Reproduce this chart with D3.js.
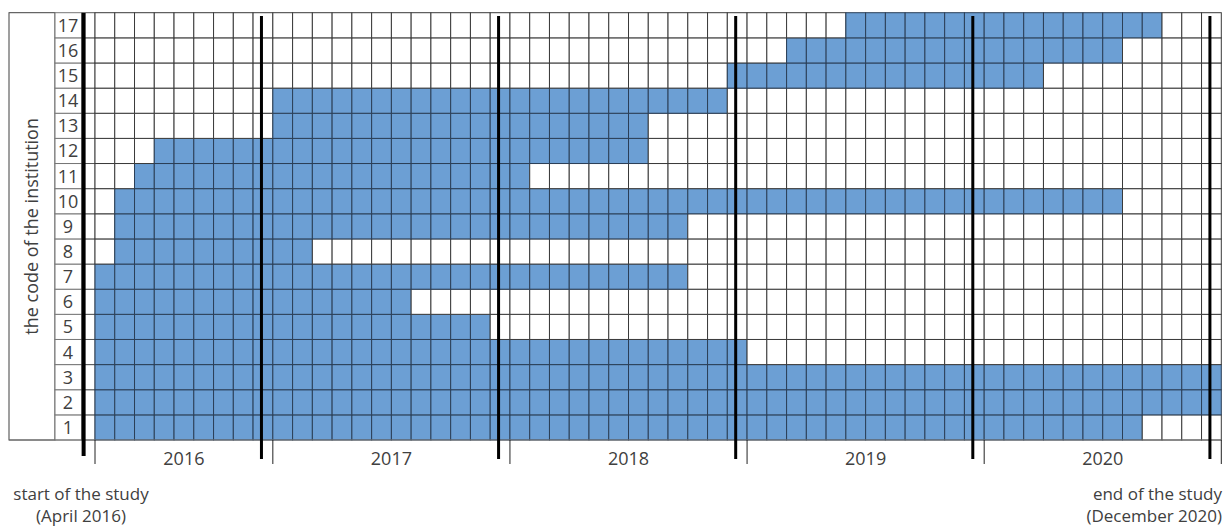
<!DOCTYPE html>
<html>
<head>
<meta charset="utf-8">
<script src="https://cdn.jsdelivr.net/npm/d3@7"></script>
<style>
  body { margin: 0; background: #fff; }
  text { font-family: "Open Sans", sans-serif; fill: #404040; }
</style>
</head>
<body>
<div id="chart"></div>
<script>
const w = 1224;
const h = 528;

// institutions and the months they took part (first and last month, inclusive)
const institutions = [1, 2, 3, 4, 5, 6, 7, 8, 9, 10, 11, 12, 13, 14, 15, 16, 17];
const startMonth = ["2016-04", "2016-04", "2016-04", "2016-04", "2016-04", "2016-04", "2016-04", "2016-05", "2016-05",
                    "2016-05", "2016-06", "2016-07", "2017-01", "2017-01", "2018-12", "2019-03", "2019-06"];
const endMonth   = ["2020-08", "2020-12", "2020-12", "2018-12", "2017-11", "2017-07", "2018-09", "2017-02", "2018-09",
                    "2020-07", "2018-01", "2018-07", "2018-07", "2018-11", "2020-03", "2020-07", "2020-09"];
const years = ["2016", "2017", "2018", "2019", "2020"];
// thick marker lines: start of study, year changes, end of study
const markers = ["2016-04", "2017-01", "2018-01", "2019-01", "2020-01", "2021-01"];

const fmt = d3.timeFormat("%Y-%m");
const months = d3.timeMonth.range(new Date(2016, 3, 1), new Date(2021, 0, 1)).map(fmt);

const gLeft = 95, gRight = 1221.3, gTop = 12.7, gBottom = 440;

const svg = d3.select("#chart")
    .append("svg")
        .attr("width", w)
        .attr("height", h);

const x = d3.scaleBand().domain(months).range([gLeft, gRight]);
const y = d3.scaleBand().domain(institutions).range([gBottom, gTop]);
const bw = x.bandwidth();
const xEdge = m => m === "2021-01" ? gRight : x(m);

// left label box
svg.append("rect")
    .attr("x", 9).attr("y", gTop)
    .attr("width", 46).attr("height", gBottom - gTop)
    .attr("fill", "none").attr("stroke", "#404040");

svg.append("text")
    .attr("transform", "translate(38," + (gTop + gBottom) / 2 + ") rotate(-90)")
    .attr("text-anchor", "middle")
    .style("font-size", "18px")
    .text("the code of the institution");

const rows = svg.append("g");
rows.selectAll("rect")
    .data(institutions)
    .enter()
    .append("rect")
        .attr("x", 55)
        .attr("y", d => y(d))
        .attr("width", 27)
        .attr("height", y.bandwidth())
        .attr("fill", "#fff")
        .attr("stroke", "#777");

rows.selectAll("text")
    .data(institutions)
    .enter()
    .append("text")
        .attr("x", 68)
        .attr("y", d => y(d) + y.bandwidth() / 2 + 6.5)
        .attr("text-anchor", "middle")
        .style("font-size", "18px")
        .text(d => d);

// filler between label column and first month
svg.append("g").selectAll("rect")
    .data(institutions)
    .enter()
    .append("rect")
        .attr("x", 82).attr("y", d => y(d))
        .attr("width", gLeft - 82).attr("height", y.bandwidth())
        .attr("fill", "#fff").attr("stroke", "#555");

// grid of cells
const cells = [];
institutions.forEach((inst, i) => {
    months.forEach(m => {
        cells.push({inst: inst, month: m, on: m >= startMonth[i] && m <= endMonth[i]});
    });
});

svg.append("g").selectAll("rect")
    .data(cells)
    .enter()
    .append("rect")
        .attr("x", d => x(d.month))
        .attr("y", d => y(d.inst))
        .attr("width", bw)
        .attr("height", y.bandwidth())
        .attr("fill", d => d.on ? "#6c9fd4" : "#fff")
        .attr("stroke", d => d.on ? "#2b3f57" : "#3a3a3a")
        .attr("stroke-width", 1);

// bottom rule
svg.append("line")
    .attr("x1", 9).attr("x2", gRight)
    .attr("y1", gBottom).attr("y2", gBottom)
    .attr("stroke", "#777");

// year ticks and labels
const yearEdges = years.map(yr => yr === "2016" ? "2016-04" : yr + "-01").concat(["2021-01"]);
svg.append("g").selectAll("line")
    .data(yearEdges)
    .enter()
    .append("line")
        .attr("x1", d => xEdge(d)).attr("x2", d => xEdge(d))
        .attr("y1", gBottom).attr("y2", 464)
        .attr("stroke", "#222").attr("stroke-width", 1);

svg.append("g").selectAll("text")
    .data(years)
    .enter()
    .append("text")
        .attr("x", (d, i) => (xEdge(yearEdges[i]) + xEdge(yearEdges[i + 1])) / 2)
        .attr("y", 465)
        .attr("text-anchor", "middle")
        .style("font-size", "18px")
        .text(d => d);

// thick marker lines
svg.append("g").selectAll("line")
    .data(markers)
    .enter()
    .append("line")
        .attr("x1", d => xEdge(d) - bw / 2 - 1.5).attr("x2", d => xEdge(d) - bw / 2 - 1.5)
        .attr("y1", (d, i) => i === 0 ? 13 : 16)
        .attr("y2", (d, i) => i === 0 ? 456 : 459)
        .attr("stroke", "#000")
        .attr("stroke-width", (d, i) => i === 0 ? 4 : 3);

// study start / end notes
svg.append("text").attr("x", 81).attr("y", 500).attr("text-anchor", "middle")
    .style("font-size", "17px").text("start of the study");
svg.append("text").attr("x", 81).attr("y", 522).attr("text-anchor", "middle")
    .style("font-size", "17px").text("(April 2016)");
svg.append("text").attr("x", 1222).attr("y", 500).attr("text-anchor", "end")
    .style("font-size", "17px").text("end of the study");
svg.append("text").attr("x", 1222).attr("y", 522).attr("text-anchor", "end")
    .style("font-size", "17px").text("(December 2020)");
</script>
</body>
</html>
